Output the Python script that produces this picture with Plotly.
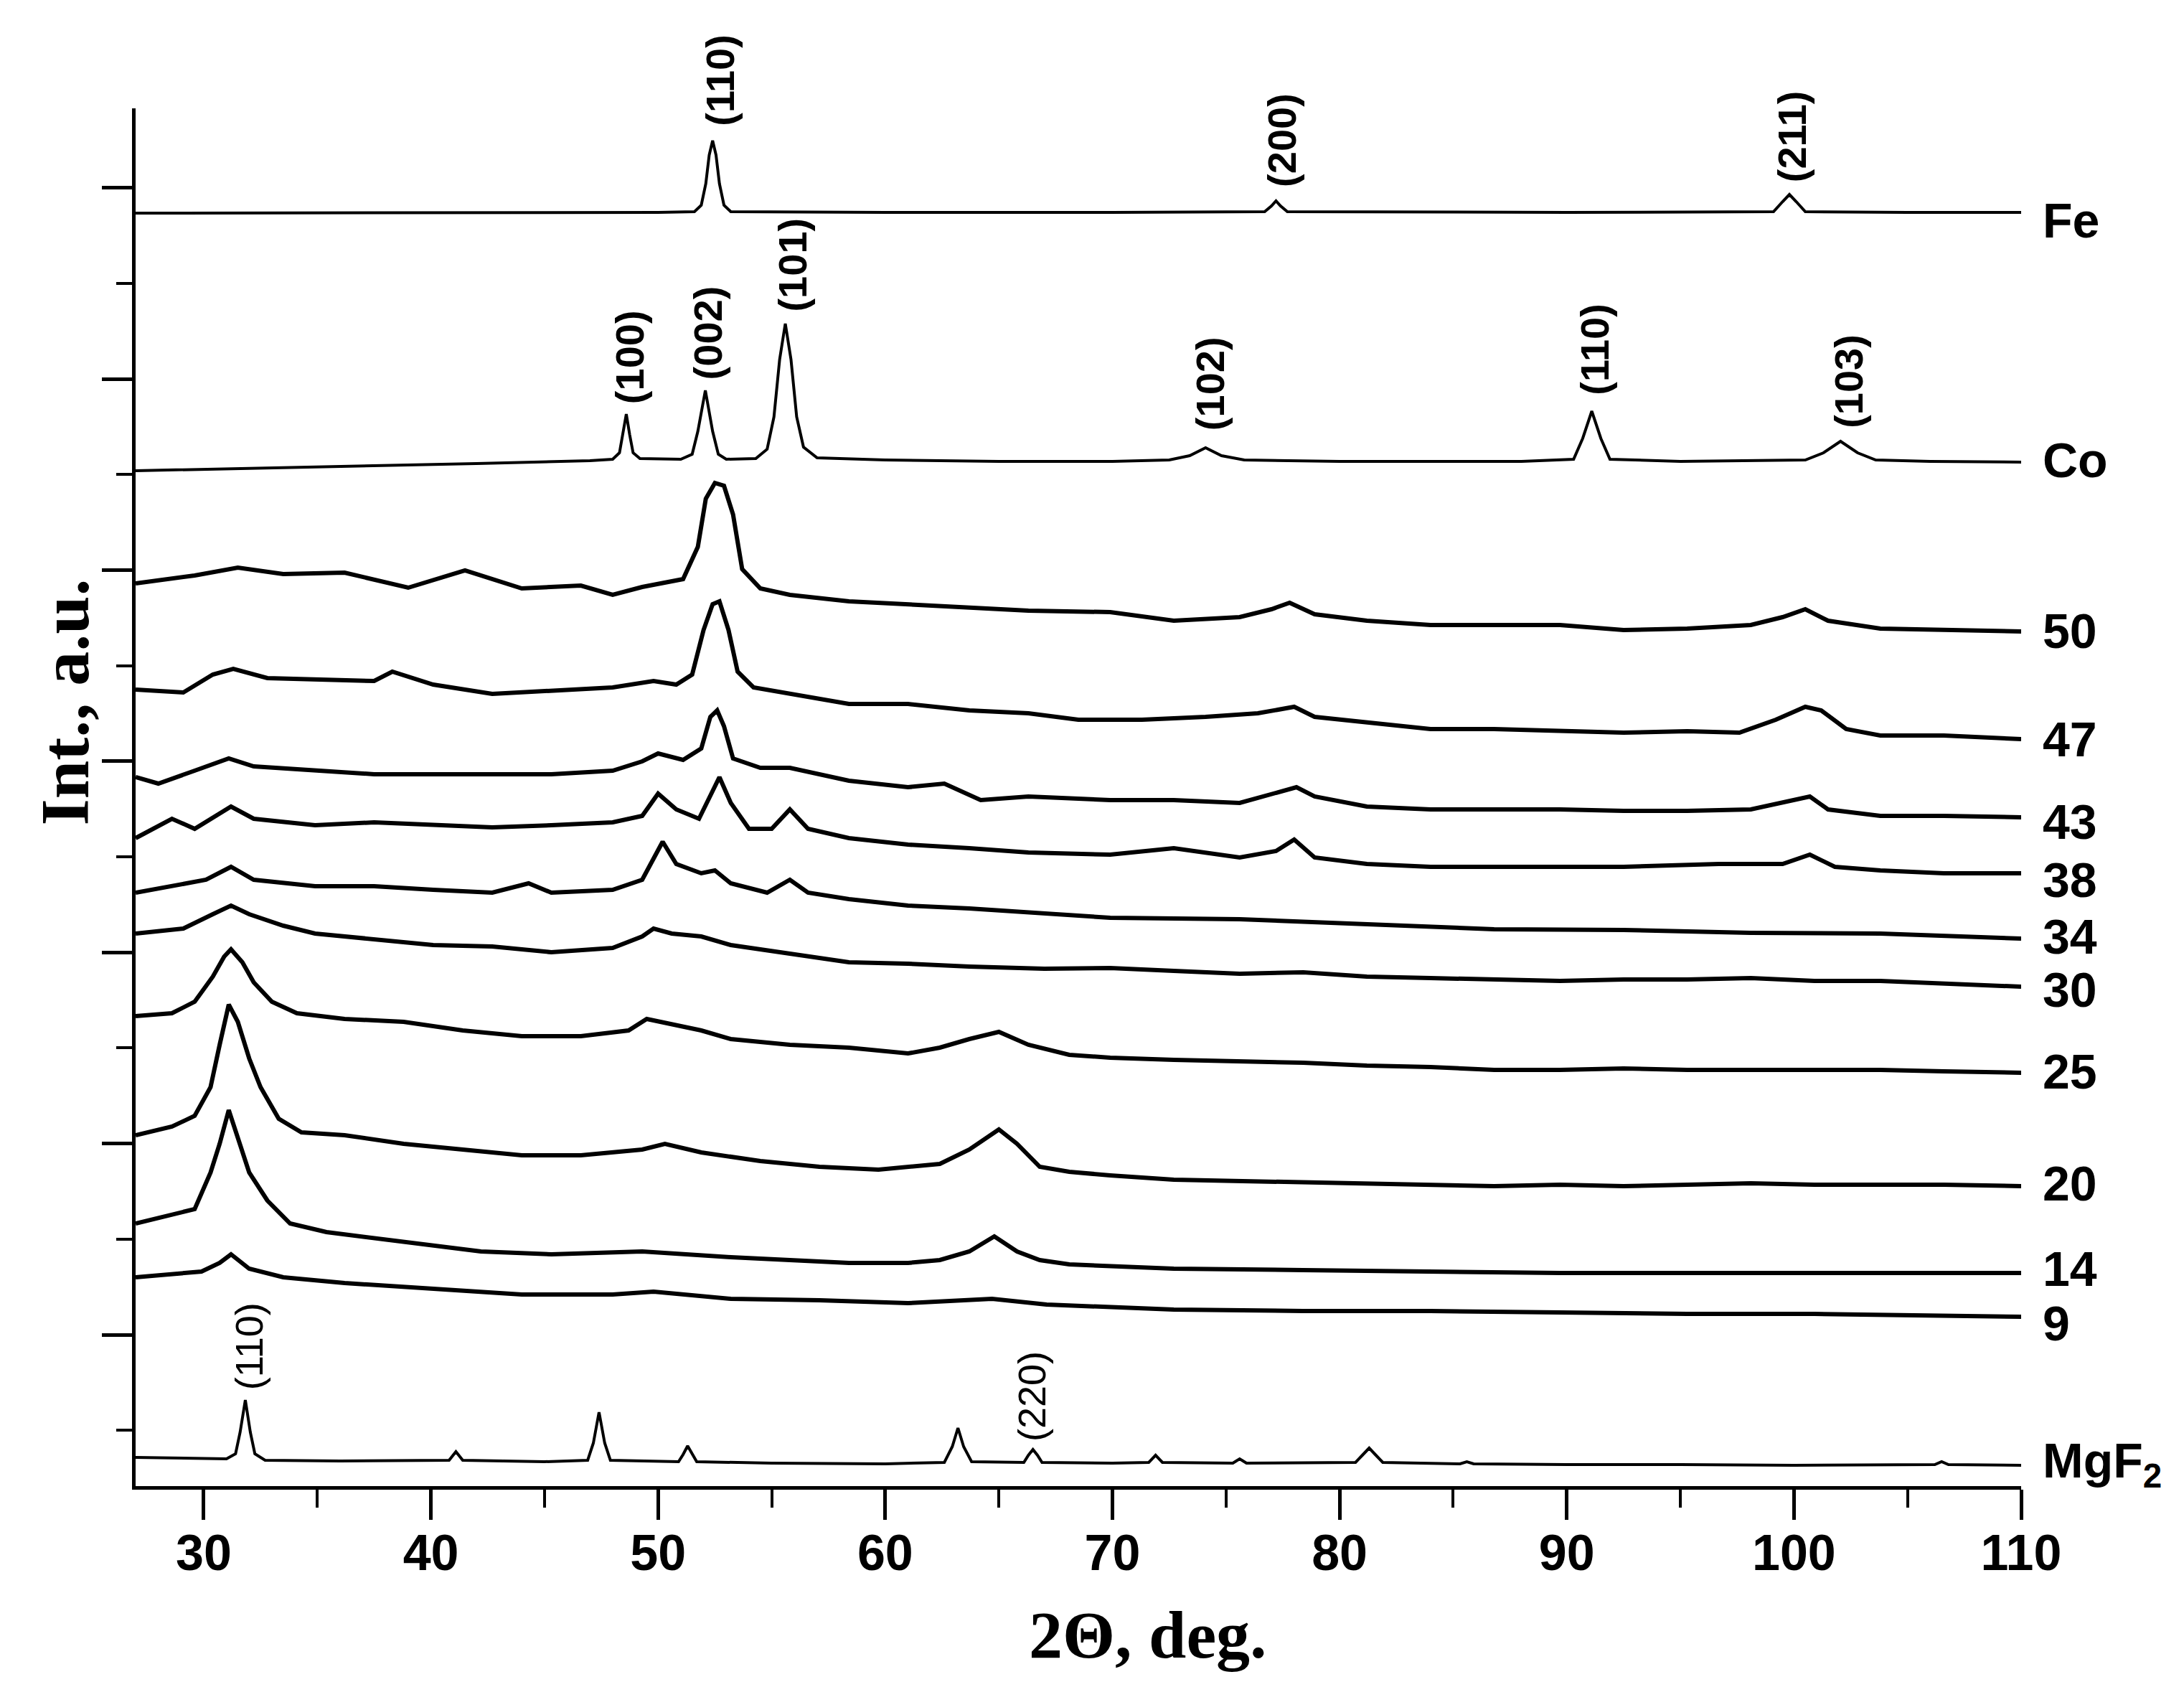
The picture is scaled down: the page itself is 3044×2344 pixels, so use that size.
import plotly.graph_objects as go

# ---------------- data ----------------
fe_x = [27, 40, 50, 51.6, 51.9, 52.1, 52.25, 52.4, 52.55, 52.7, 52.9, 53.2, 60, 70, 76.7, 77.0, 77.2, 77.4, 77.7, 90, 99.1, 99.5, 99.8, 100.1, 100.5, 105, 110]
fe_y = [1774, 1774, 1775, 1776, 1785, 1815, 1855, 1875, 1855, 1815, 1785, 1776, 1775, 1775, 1776, 1784, 1791, 1784, 1776, 1775, 1776, 1790, 1800, 1790, 1776, 1775, 1775]

co_x = [27, 35, 42, 47, 48.0, 48.3, 48.45, 48.6, 48.75, 48.9, 49.2, 51.0, 51.5, 51.75, 52.08, 52.4, 52.65, 53.0,
        54.3, 54.8, 55.1, 55.35, 55.6, 55.85, 56.1, 56.4, 57.0, 60, 65, 70, 72.5, 73.4, 74.1, 74.8, 75.8, 80, 88,
        90.3, 90.7, 91.1, 91.5, 91.9, 95, 100.5, 101.3, 102.05, 102.8, 103.6, 106, 110]
co_y = [1415, 1420, 1425, 1429, 1431, 1440, 1465, 1494, 1465, 1440, 1432, 1431, 1438, 1470, 1527, 1470, 1438, 1431,
        1432, 1445, 1490, 1570, 1620, 1570, 1490, 1448, 1433, 1430, 1428, 1428, 1430, 1436, 1447, 1436, 1430, 1428, 1428,
        1431, 1460, 1498, 1460, 1431, 1428, 1430, 1440, 1456, 1440, 1430, 1428, 1427]

s50_x = [27, 29.6, 31.5, 33.5, 36.2, 39.0, 41.5, 44, 46.6, 48.0, 49.3, 51.1, 51.75, 52.1, 52.5, 52.9, 53.3, 53.7, 54.5, 55.8,
         58.4, 61.0, 63.7, 66.3, 69.9, 72.7, 75.6, 77.0, 77.8, 78.9, 81.2, 84.0, 86.8, 89.7, 92.5, 95.3, 98.1, 99.5,
         100.5, 101.5, 103.8, 106.6, 110]
s50_y = [1258, 1269, 1280, 1271, 1273, 1252, 1276, 1251, 1255, 1242, 1253, 1264, 1309, 1376, 1398, 1394, 1354, 1278, 1251, 1242,
         1233, 1229, 1224, 1220, 1218, 1206, 1211, 1222, 1231, 1215, 1206, 1200, 1200, 1200, 1193, 1195, 1200, 1211,
         1222, 1206, 1195, 1193, 1191]

s47_x = [27, 29.1, 30.4, 31.3, 32.8, 34.9, 37.5, 38.3, 40.1, 42.7, 45.3, 48.0, 49.8, 50.8, 51.5, 52.0, 52.4, 52.7, 53.1,
         53.5, 54.2, 55.8, 58.4, 61.0, 63.7, 66.3, 68.5, 71.3, 74.1, 76.4, 78.0, 78.9, 81.2, 84.0, 86.8, 89.7, 92.5,
         95.3, 97.6, 99.2, 100.5, 101.2, 102.3, 103.8, 106.6, 110]
s47_y = [1110, 1106, 1131, 1139, 1126, 1124, 1122, 1135, 1117, 1104, 1108, 1113, 1122, 1117, 1131, 1193, 1229, 1233, 1193,
         1135, 1113, 1104, 1090, 1090, 1081, 1077, 1068, 1068, 1072, 1077, 1086, 1072, 1064, 1055, 1055, 1052, 1050,
         1052, 1050, 1068, 1086, 1081, 1055, 1046, 1046, 1041]

s43_x = [27, 28.0, 29.6, 31.1, 32.2, 34.9, 37.5, 40.1, 42.7, 45.3, 48.0, 49.3, 50.0, 51.1, 51.9, 52.3, 52.6, 52.9, 53.3,
         54.5, 55.8, 58.4, 61.0, 62.6, 64.2, 66.3, 69.9, 72.7, 75.6, 77.0, 78.1, 78.9, 81.2, 84.0, 86.8, 89.7, 92.5,
         95.3, 98.1, 99.5, 100.7, 101.5, 103.8, 106.6, 110]
s43_y = [988, 979, 997, 1014, 1003, 997, 992, 992, 992, 992, 997, 1010, 1021, 1012, 1028, 1072, 1081, 1059, 1014,
         1001, 1001, 983, 974, 979, 956, 961, 956, 956, 952, 965, 974, 961, 947, 943, 943, 943, 941,
         941, 943, 952, 961, 943, 934, 934, 932]

s38_x = [27, 28.6, 29.6, 31.2, 32.2, 34.9, 37.5, 40.1, 42.7, 45.3, 48.0, 49.3, 50.0, 50.8, 51.8, 52.7, 53.2, 54.0, 55.0,
         55.8, 56.6, 58.4, 61.0, 63.7, 66.3, 69.9, 72.7, 75.6, 77.2, 78.0, 78.9, 81.2, 84.0, 86.8, 89.7, 92.5, 96.7,
         99.5, 100.7, 101.8, 103.8, 106.6, 110]
s38_y = [903, 930, 916, 947, 930, 921, 925, 921, 918, 921, 925, 934, 965, 943, 930, 988, 952, 916, 916,
         943, 916, 903, 894, 889, 883, 880, 889, 876, 885, 901, 876, 867, 863, 863, 863, 863, 867,
         867, 880, 863, 858, 854, 854]

s34_x = [27, 28.6, 30.1, 31.2, 32.2, 34.9, 37.5, 40.1, 42.7, 44.3, 45.3, 48.0, 49.3, 50.2, 50.8, 51.9, 52.5, 53.2, 54.8,
         55.8, 56.6, 58.4, 61.0, 63.7, 66.3, 69.9, 75.6, 81.2, 86.8, 92.5, 98.1, 103.8, 110]
s34_y = [827, 836, 845, 863, 845, 836, 836, 831, 827, 840, 827, 831, 845, 898, 867, 854, 858, 840, 827,
         845, 827, 818, 809, 805, 800, 792, 790, 783, 776, 775, 771, 770, 763]

s30_x = [27, 29.1, 30.4, 31.2, 32.0, 33.5, 34.9, 37.5, 40.1, 42.7, 45.3, 48.0, 49.3, 49.8, 50.6, 51.9, 53.2, 55.8, 58.4,
         61.0, 63.7, 67.0, 69.9, 72.7, 75.6, 78.4, 81.2, 84.0, 86.8, 89.7, 92.5, 95.3, 98.1, 100.9, 103.8, 106.6, 110]
s30_y = [770, 777, 797, 809, 797, 781, 770, 762, 754, 752, 744, 750, 766, 777, 770, 766, 754, 742, 730,
         728, 724, 721, 722, 718, 714, 716, 710, 708, 706, 704, 706, 706, 708, 704, 704, 700, 696]

s25_x = [27, 28.6, 29.6, 30.4, 30.9, 31.2, 31.7, 32.2, 33.0, 34.1, 36.2, 38.8, 41.4, 44.0, 46.6, 48.7, 49.5, 50.6, 51.9,
         53.2, 55.8, 58.4, 61.0, 62.4, 63.7, 65.0, 66.3, 68.1, 69.9, 72.7, 75.6, 78.4, 81.2, 84.0, 86.8, 89.7, 92.5,
         95.3, 98.1, 100.9, 103.8, 106.6, 110]
s25_y = [655, 659, 675, 710, 738, 748, 730, 702, 675, 659, 651, 647, 635, 627, 627, 635, 651, 643, 635,
         623, 615, 611, 603, 611, 623, 633, 615, 601, 597, 594, 592, 590, 586, 584, 580, 580, 582,
         580, 580, 580, 580, 578, 576]

s20_x = [27, 28.6, 29.6, 30.3, 30.7, 31.1, 31.5, 32.0, 32.5, 33.3, 34.3, 36.2, 38.8, 41.4, 44.0, 46.6, 49.3, 50.3, 51.9,
         54.5, 57.1, 59.7, 62.4, 63.7, 65.0, 65.8, 66.8, 68.1, 69.9, 72.7, 75.6, 78.4, 81.2, 84.0, 86.8, 89.7, 92.5,
         95.3, 98.1, 100.9, 103.8, 106.6, 110]
s20_y = [489, 501, 516, 556, 615, 671, 647, 596, 556, 512, 493, 489, 477, 469, 461, 461, 469, 477, 465,
         453, 445, 441, 449, 469, 497, 477, 445, 438, 433, 427, 425, 423, 422, 420, 418, 420, 418,
         420, 422, 420, 420, 420, 418]

s14_x = [27, 28.6, 29.6, 30.3, 30.7, 31.1, 31.6, 32.0, 32.8, 33.8, 35.4, 37.5, 40.1, 42.2, 45.3, 49.3, 53.2, 55.8, 58.4,
         61.0, 62.4, 63.7, 64.8, 65.8, 66.8, 68.1, 72.7, 78.4, 84.0, 89.7, 95.3, 100.9, 106.6, 110]
s14_y = [366, 378, 386, 437, 477, 524, 477, 437, 398, 366, 354, 346, 335, 327, 323, 327, 319, 315, 311,
         311, 315, 327, 348, 327, 315, 309, 303, 301, 299, 297, 297, 297, 297, 297]

s9_x = [27, 28.6, 29.9, 30.7, 31.2, 32.0, 33.5, 36.2, 40.1, 44.0, 48.0, 49.8, 53.2, 57.1, 61.0, 64.7, 67.1, 72.7, 78.4,
        84.0, 89.7, 95.3, 100.9, 106.6, 110]
s9_y = [291, 295, 299, 311, 323, 303, 291, 283, 275, 267, 267, 271, 261, 259, 255, 261, 253, 246, 244,
        244, 242, 240, 240, 238, 236]

mg_x = [27, 30, 31.0, 31.4, 31.6, 31.83, 32.05, 32.25, 32.7, 36, 40, 40.8, 41.1, 41.4, 45, 46.9, 47.15, 47.4, 47.65, 47.9,
        50.9, 51.1, 51.3, 51.5, 51.7, 55, 60, 62.6, 62.95, 63.2, 63.45, 63.8, 66.1, 66.3, 66.5, 66.7, 66.9, 70, 71.6,
        71.9, 72.2, 75.3, 75.6, 75.9, 80.7, 81.0, 81.3, 81.6, 81.9, 85.3, 85.6, 85.9, 90, 95, 100, 106.2, 106.5, 106.8, 110]
mg_y = [40, 38, 38, 45, 75, 120, 75, 45, 36, 35, 35, 36, 48, 36, 34, 36, 60, 103, 60, 36,
        34, 44, 56, 44, 34, 32, 31, 33, 55, 81, 55, 34, 33, 43, 51, 43, 33, 32, 33,
        43, 33, 32, 38, 32, 33, 43, 53, 43, 33, 31, 34, 31, 30, 30, 29, 30, 34, 30, 29]

# trace names and label positions (intensity at label centre)
series_names = ["Fe", "Co", "50", "47", "43", "38", "34", "30", "25", "20", "14", "9", "MgF<sub>2</sub>"]
series_label_y = [1764, 1430, 1192, 1041, 926, 845, 766, 692, 578, 422, 303, 227, 31]

# peak index labels: text, x (text centre), y (text bottom)
peak_text = ["(110)", "(200)", "(211)", "(100)", "(002)", "(101)", "(102)", "(110)", "(103)", "(110)", "(220)"]
peak_x = [52.7, 77.45, 99.9, 48.75, 52.2, 55.9, 74.3, 91.2, 102.4, 32.0, 66.45]
peak_y = [1893, 1808, 1815, 1506, 1540, 1634, 1469, 1518, 1472, 132, 60]
peak_bold = [True, True, True, True, True, True, True, True, True, False, False]

x_range = [27, 110]
y_range = [0, 1920]

# ---------------- figure ----------------
W, H = 3044, 2344
ML, MR, MT, MB = 181, 235, 143, 281

fig = go.Figure()

series = [(fe_x, fe_y, 4), (co_x, co_y, 4), (s50_x, s50_y, 6), (s47_x, s47_y, 6), (s43_x, s43_y, 6),
          (s38_x, s38_y, 6), (s34_x, s34_y, 6), (s30_x, s30_y, 6), (s25_x, s25_y, 6), (s20_x, s20_y, 6),
          (s14_x, s14_y, 6), (s9_x, s9_y, 6), (mg_x, mg_y, 4)]
for (xs, ys, lw), name in zip(series, series_names):
    fig.add_trace(go.Scatter(x=xs, y=ys, mode="lines", name=name,
                             line=dict(color="black", width=lw), showlegend=False,
                             hoverinfo="skip"))

SANS = "Arial, Liberation Sans, sans-serif"
SERIF = "Times New Roman, Liberation Serif, serif"

annotations = []
for name, yv in zip(series_names, series_label_y):
    annotations.append(dict(x=110, y=yv, xref="x", yref="y", text=name, showarrow=False,
                            xanchor="left", yanchor="middle", xshift=28,
                            font=dict(family=SANS, size=68, color="black", weight="bold")))
for t, xv, yv, b in zip(peak_text, peak_x, peak_y, peak_bold):
    annotations.append(dict(x=xv, y=yv, xref="x", yref="y", text=t, showarrow=False,
                            textangle=-90, xanchor="center", yanchor="bottom",
                            font=dict(family=SANS, size=56 if b else 54, color="black",
                                      weight="bold" if b else "normal")))
annotations.append(dict(x=0.537, y=-0.108, xref="paper", yref="paper", text="2Θ, deg.",
                        showarrow=False, xanchor="center", yanchor="middle",
                        font=dict(family=SERIF, size=94, color="black", weight="bold")))
annotations.append(dict(x=-0.0373, y=0.569, xref="paper", yref="paper", text="Int., a.u.",
                        showarrow=False, xanchor="center", yanchor="middle", textangle=-90,
                        font=dict(family=SERIF, size=96, color="black", weight="bold")))

fig.update_layout(
    width=W, height=H,
    margin=dict(l=ML, r=MR, t=MT, b=MB, autoexpand=False),
    paper_bgcolor="white", plot_bgcolor="white",
    annotations=annotations,
    xaxis=dict(range=x_range, showgrid=False, zeroline=False, showline=True,
               linecolor="black", linewidth=5, ticks="outside", ticklen=42, tickwidth=5,
               tickcolor="black", tickmode="linear", tick0=30, dtick=10,
               tickfont=dict(family=SANS, size=70, color="black", weight="bold"),
               minor=dict(ticks="outside", ticklen=25, tickwidth=4, tickcolor="black",
                          tick0=25, dtick=5, showgrid=False),
               ticklabelstandoff=-14),
    yaxis=dict(range=y_range, showgrid=False, zeroline=False, showline=True,
               linecolor="black", linewidth=5, ticks="outside", ticklen=42, tickwidth=5,
               tickcolor="black", tickmode="linear", tick0=211, dtick=266.4,
               showticklabels=False,
               minor=dict(ticks="outside", ticklen=22, tickwidth=4, tickcolor="black",
                          tick0=77.8, dtick=133.2, showgrid=False)),
)

fig.write_html("out.html")
